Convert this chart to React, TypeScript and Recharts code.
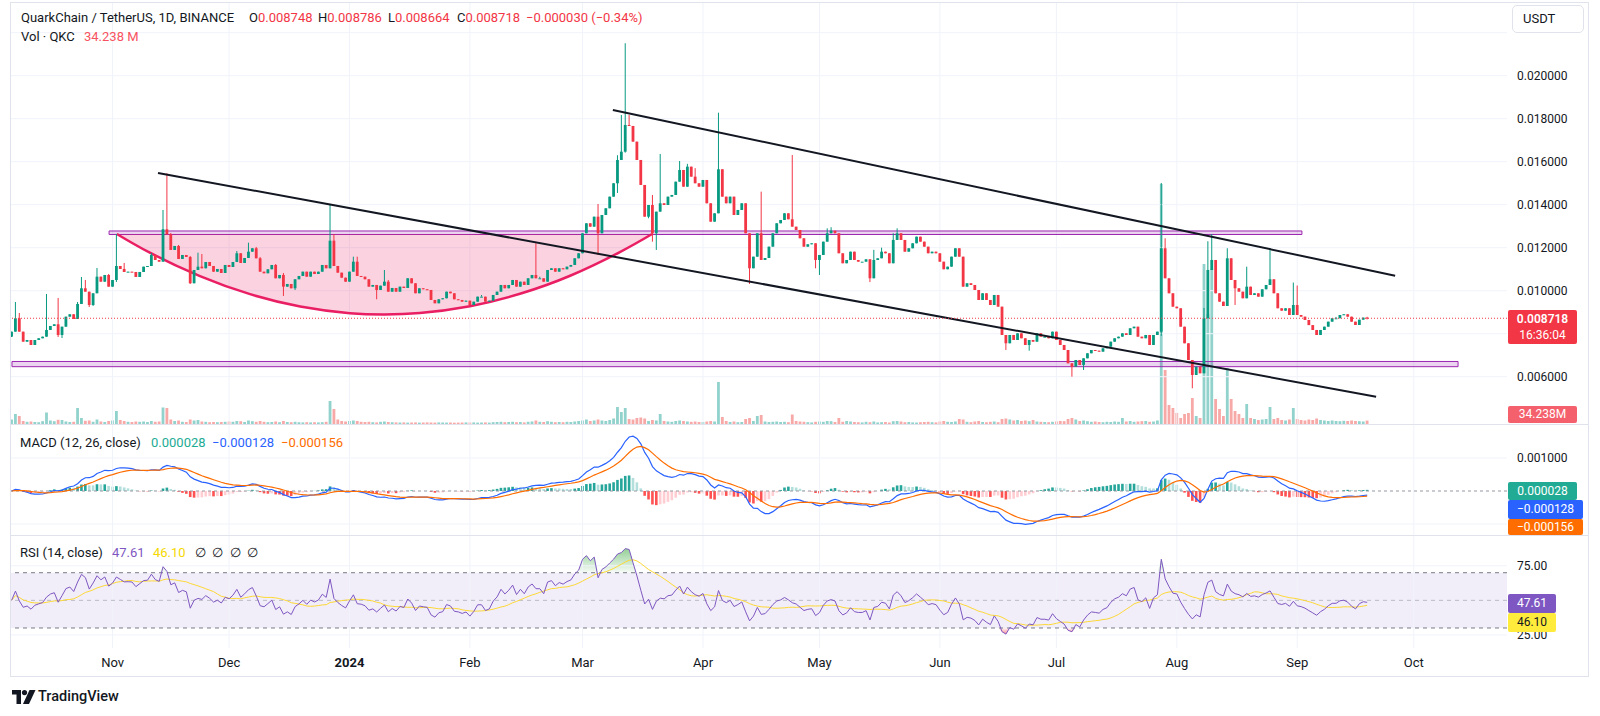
import React from "react";
import {
  Area,
  Bar,
  ComposedChart,
  Line,
  ReferenceArea,
  ReferenceLine,
  XAxis,
  YAxis,
} from "recharts";

const FONT = "Roboto, 'Noto Sans', sans-serif";
const TEXT = "#131722";
const GRID = "#f0f3fa";
const FRAME = "#e0e3eb";
const UP = "#089981";
const DOWN = "#f23645";

// ---- daily closes, millionths of USDT (Oct 6 2023 .. Sep 19 2024) ----
const closeOct = [8094, 8717, 8094, 7628, 7707, 7475, 7707, 7787, 7861, 8173, 8359, 8438, 7940, 8326, 8791, 8903, 8684, 9382, 10112, 9954, 9335, 9880, 10652, 10419, 10731, 10187];
const closeNov = [10498, 11149, 11010, 10870, 10884, 10870, 10638, 10870, 11117, 11149, 11661, 11428, 11349, 12856, 12624, 11894, 12080, 11475, 11661, 11568, 10345, 10963, 11117, 11042, 11335, 11149, 10884, 11010, 10824, 11196];
const closeDec = [11103, 11335, 11740, 11289, 11521, 11814, 11973, 11507, 10884, 10810, 10996, 11196, 10577, 10731, 10187, 10312, 10112, 10531, 10684, 10884, 10652, 10884, 10777, 10884, 11196, 11042, 12326, 11149, 10838, 10605, 10419];
const closeJan = [10884, 11349, 10684, 10652, 10531, 10187, 10266, 10033, 10233, 10419, 9954, 10126, 9954, 10187, 10126, 10577, 10345, 9880, 10112, 10066, 10033, 9568, 9414, 9600, 9647, 9954, 9880, 9600, 9568, 9489, 9536];
const closeFeb = [9335, 9489, 9722, 9722, 9489, 9536, 9801, 9954, 10266, 10112, 10266, 10498, 10187, 10419, 10266, 10577, 10731, 10577, 10577, 10419, 10963, 11042, 10884, 11042, 10996, 11117, 11196, 11507, 11740];
const closeMar = [12670, 13135, 12977, 13442, 12670, 13521, 13833, 14373, 14996, 16079, 16465, 17707, 17661, 16931, 16079, 14917, 13442, 13986, 12670, 13675, 14065, 13986, 14373, 14452, 15070, 15614, 14837, 15768, 15303, 14996, 14837];
const closeApr = [15149, 14065, 13210, 13600, 15647, 14373, 14065, 14373, 13521, 13754, 14065, 12670, 11042, 11582, 12670, 11428, 11521, 12047, 12670, 13135, 13289, 13600, 13321, 12977, 12824, 12438, 12047, 12159, 12205, 11428];
const closeMay = [11661, 12280, 12670, 12791, 12670, 11740, 11275, 11428, 11814, 11428, 11349, 11349, 11461, 10577, 11428, 11507, 11814, 11740, 11275, 12359, 12670, 12359, 11814, 11973, 12205, 12512, 12280, 12047, 11740, 11814, 11740];
const closeJun = [11349, 10996, 11117, 11582, 11973, 11582, 10187, 10345, 10266, 10033, 9568, 9880, 9568, 9335, 9801, 9257, 7940, 7554, 7940, 7707, 8019, 7787, 7475, 7707, 7628, 8019, 7861, 7861, 7787, 8094];
const closeJul = [7707, 7475, 7242, 6623, 6466, 6777, 6545, 6856, 7089, 7242, 7210, 7164, 7322, 7396, 7628, 7787, 7861, 8019, 7940, 8252, 8326, 7861, 7787, 7940, 7475, 7940, 8094, 11973, 10577, 9880, 9257];
const closeAug = [9182, 8326, 7554, 6777, 6080, 6466, 6159, 8717, 10963, 11428, 9880, 9489, 9289, 11507, 10498, 10112, 9954, 9647, 10187, 9801, 9880, 9722, 10066, 10266, 10531, 9880, 9182, 9071, 9182, 8870, 9335];
const closeSep = [8870, 8791, 8638, 8400, 8173, 7940, 8173, 8326, 8559, 8717, 8717, 8870, 8903, 8791, 8559, 8405, 8652, 8748, 8718];
const firstOpen = 7861;

// wicks that stand out from the body (day index -> price, millionths)
const wickHigh: Record<number, number> = {
  1: 9475, 2: 8963, 9: 9847, 12: 9661, 17: 9475, 18: 10638, 19: 10498, 22: 11056, 25: 10777,
  27: 12638, 29: 11289, 36: 11754, 39: 13754, 40: 15461, 41: 12684, 43: 12126, 46: 11614,
  48: 11768, 49: 11707, 58: 11847, 61: 12233, 63: 12033, 64: 11568, 68: 11242, 70: 10824,
  82: 13986, 83: 12624, 88: 11582, 89: 11582, 96: 10963, 97: 10498, 121: 9800, 135: 12205,
  136: 10650, 151: 14033, 156: 16300, 157: 18172, 158: 21507, 159: 18172, 165: 14452,
  167: 16359, 172: 16033, 174: 15900, 176: 15700, 182: 18279, 193: 14606, 201: 16312,
  210: 12900, 211: 12950, 222: 11900, 224: 12000, 227: 12670, 228: 12900, 266: 7940,
  296: 15010, 297: 12438, 307: 9200, 308: 12300, 309: 12638, 313: 11973, 318: 11117,
  324: 11973, 330: 10380, 331: 10240, 341: 8780, 349: 8786,
};
const wickLow: Record<number, number> = {
  0: 7847, 12: 7847, 13: 7800, 20: 9242, 21: 9289, 27: 10405, 46: 10312, 70: 9754, 73: 10033,
  94: 9600, 151: 11661, 156: 14545, 158: 16420, 164: 13368, 165: 12280, 166: 11894,
  190: 10312, 207: 11040, 208: 10731, 221: 10400, 256: 7242, 262: 7210, 273: 6001,
  276: 6312, 296: 7900, 304: 5461, 315: 9335, 349: 8664,
};

// ---- daily volume, millions of QKC ----
const volOct = [45, 100, 80, 30, 22, 25, 20, 18, 28, 115, 35, 28, 42, 40, 25, 20, 22, 160, 60, 32, 35, 22, 45, 25, 20, 30];
const volNov = [35, 130, 40, 30, 22, 20, 25, 22, 25, 20, 30, 22, 25, 165, 160, 45, 30, 35, 22, 20, 45, 35, 40, 25, 22, 18, 20, 18, 20, 22];
const volDec = [25, 22, 30, 28, 20, 35, 28, 22, 30, 22, 18, 20, 25, 18, 30, 20, 18, 22, 18, 16, 18, 16, 18, 16, 18, 22, 230, 150, 45, 30, 25];
const volJan = [30, 35, 30, 22, 20, 22, 18, 16, 22, 25, 20, 18, 16, 15, 16, 14, 15, 16, 14, 15, 16, 15, 14, 16, 15, 14, 15, 13, 14, 15, 16];
const volFeb = [15, 16, 14, 15, 16, 14, 18, 20, 22, 18, 20, 22, 18, 20, 16, 22, 25, 35, 22, 20, 28, 22, 18, 20, 18, 22, 20, 25, 30];
const volMar = [35, 45, 30, 35, 45, 35, 30, 40, 55, 170, 120, 160, 50, 45, 60, 65, 55, 30, 40, 35, 100, 30, 25, 22, 30, 35, 30, 25, 22, 25, 20];
const volApr = [20, 25, 30, 25, 420, 70, 30, 20, 25, 18, 20, 50, 60, 30, 80, 90, 25, 20, 22, 25, 20, 22, 18, 95, 30, 25, 22, 18, 16, 22];
const volMay = [25, 22, 30, 28, 20, 60, 22, 30, 25, 20, 18, 16, 22, 18, 25, 16, 18, 20, 15, 28, 30, 25, 18, 20, 16, 15, 18, 20, 22, 18, 16];
const volJun = [25, 30, 22, 20, 25, 50, 45, 22, 18, 25, 30, 20, 18, 22, 25, 18, 50, 55, 45, 35, 40, 30, 35, 28, 40, 25, 22, 20, 18, 22];
const volJul = [25, 30, 28, 50, 60, 45, 30, 35, 28, 22, 25, 20, 18, 22, 20, 25, 22, 60, 25, 30, 22, 25, 28, 30, 22, 25, 35, 2400, 540, 190, 160];
const volAug = [110, 60, 100, 110, 260, 80, 60, 1600, 1100, 1550, 250, 150, 80, 560, 250, 130, 100, 60, 200, 60, 50, 40, 45, 50, 170, 50, 60, 40, 35, 45, 160];
const volSep = [50, 40, 35, 45, 40, 55, 40, 35, 30, 35, 30, 28, 32, 30, 35, 30, 28, 25, 34];

// ---- axes ----
const monthStarts = [26, 56, 87, 118, 147, 178, 208, 239, 269, 300, 331, 361];
const monthLabels = ["Nov", "Dec", "2024", "Feb", "Mar", "Apr", "May", "Jun", "Jul", "Aug", "Sep", "Oct"];
const priceTicks = [0.006, 0.01, 0.012, 0.014, 0.016, 0.018, 0.02];
const priceGrid = [0.006, 0.008, 0.01, 0.012, 0.014, 0.016, 0.018, 0.02, 0.022];
const lastPrice = 0.008718;

// ---- drawings (day index, price) ----
const trendLines = [
  { x1: 37.7, y1: 0.015475, x2: 351.3, y2: 0.005071 },
  { x1: 154.8, y1: 0.018405, x2: 356.2, y2: 0.010698 },
];
const zones = [
  { x1: 25.1, x2: 332.2, y1: 0.012614, y2: 0.012777 },
  { x1: 0.1, x2: 372.4, y1: 0.006466, y2: 0.006708 },
];
const cupIdx = [27.1, 35.6, 48.5, 61.4, 74.3, 87.1, 96.0, 105.1, 118.0, 130.9, 143.8, 156.6, 164.9];
const cupPrice = [12638, 11768, 10675, 9838, 9266, 8954, 8893, 8959, 9275, 9856, 10694, 11796, 12638];
const cupRim = 12638;

// ---- scales ----
const X_MIN = -0.15;
const X_MAX = 385.0;
const P_MIN = 0.0038;
const P_MAX = 0.02338;
const VOL_TOP = 4210;
const MACD_MIN = -0.0013333;
const MACD_MAX = 0.002;
const RSI_MIN = 15.52;
const RSI_MAX = 96.56;

const closes = [
  ...closeOct, ...closeNov, ...closeDec, ...closeJan, ...closeFeb, ...closeMar,
  ...closeApr, ...closeMay, ...closeJun, ...closeJul, ...closeAug, ...closeSep,
].map((v) => v / 1e6);
const vols = [
  ...volOct, ...volNov, ...volDec, ...volJan, ...volFeb, ...volMar,
  ...volApr, ...volMay, ...volJun, ...volJul, ...volAug, ...volSep,
];

function ema(src: number[], n: number) {
  const k = 2 / (n + 1);
  const out: number[] = [];
  src.forEach((v, i) => out.push(i === 0 ? v : out[i - 1] + k * (v - out[i - 1])));
  return out;
}

// MACD 12/26/9 and RSI 14 from the closes
const ema12 = ema(closes, 12);
const ema26 = ema(closes, 26);
const macd = closes.map((_, i) => ema12[i] - ema26[i]);
const signal = ema(macd, 9);
const hist = macd.map((m, i) => m - signal[i]);

const change = closes.map((c, i) => (i === 0 ? 0 : c - closes[i - 1]));
const seed = change.slice(1, 15).reduce((s, d) => s + Math.abs(d), 0) / 28;
let avgGain = seed;
let avgLoss = seed;
const rsi = closes.map((_, i) => {
  if (i > 0) {
    avgGain = (avgGain * 13 + Math.max(change[i], 0)) / 14;
    avgLoss = (avgLoss * 13 + Math.max(-change[i], 0)) / 14;
  }
  return 100 - 100 / (1 + avgGain / avgLoss);
});
const rsiMa = rsi.map((_, i) => {
  const w = rsi.slice(Math.max(0, i - 13), i + 1);
  return w.reduce((a, b) => a + b, 0) / w.length;
});

const rows = closes.map((c, i) => {
  const o = i === 0 ? firstOpen / 1e6 : closes[i - 1];
  const h = Math.max(o, c, (wickHigh[i] ?? 0) / 1e6);
  const l = Math.min(o, c, wickLow[i] != null ? wickLow[i] / 1e6 : Infinity);
  const prevHist = i === 0 ? 0 : hist[i - 1];
  const hc =
    hist[i] >= 0
      ? hist[i] > prevHist ? "#26a69a" : "#b2dfdb"
      : hist[i] > prevHist ? "#ffcdd2" : "#ff5252";
  return { i, o, c, h, l, v: vols[i] ?? 0, macd: macd[i], signal: signal[i], hist: hist[i], hc, rsi: rsi[i], rsiMa: rsiMa[i] };
});

const cupRows = cupIdx.map((i, k) => ({ i, p: cupPrice[k] / 1e6, rim: cupRim / 1e6 }));

// ---- shapes ----
const candleShape = (p: any) => {
  const d = p.payload;
  const top = Math.min(p.y, p.y + p.height);
  const span = Math.abs(p.height);
  const cx = p.x + p.width / 2;
  const yOf = (v: number) => (d.h === d.l ? top : top + ((d.h - v) / (d.h - d.l)) * span);
  const color = d.c >= d.o ? UP : DOWN;
  const bt = yOf(Math.max(d.o, d.c));
  const bb = yOf(Math.min(d.o, d.c));
  return (
    <g>
      <line x1={cx} x2={cx} y1={top} y2={top + span} stroke={color} strokeWidth={1} />
      <rect x={cx - 1.4} y={bt} width={2.8} height={Math.max(1, bb - bt)} fill={color} />
    </g>
  );
};

const volShape = (p: any) => {
  const d = p.payload;
  const cx = p.x + p.width / 2;
  const top = Math.min(p.y, p.y + p.height);
  return (
    <rect
      x={cx - 1.4}
      y={top}
      width={2.8}
      height={Math.abs(p.height)}
      fill={d.c >= d.o ? "rgba(38,166,154,0.5)" : "rgba(239,83,80,0.5)"}
    />
  );
};

const histShape = (p: any) => {
  const cx = p.x + p.width / 2;
  const top = Math.min(p.y, p.y + p.height);
  return <rect x={cx - 1.3} y={top} width={2.6} height={Math.abs(p.height)} fill={p.payload.hc} />;
};

const axisText = (label: (v: number) => string) => (p: any) => (
  <text x={1517} y={p.y} dominantBaseline="central" fontSize={12} fill={TEXT} fontFamily={FONT}>
    {label(p.payload.value)}
  </text>
);

const monthTick = (p: any) => {
  const k = monthStarts.indexOf(p.payload.value);
  const label = monthLabels[k] ?? "";
  return (
    <text x={p.x} y={126} textAnchor="middle" dominantBaseline="central" fontSize={13} fill={TEXT} fontFamily={FONT} fontWeight={label === "2024" ? 700 : 400}>
      {label}
    </text>
  );
};

function Pane({ top, height, children }: { top: number; height: number; children: React.ReactNode }) {
  return <div style={{ position: "absolute", left: 0, top, width: 1600, height }}>{children}</div>;
}

function Txt({ left, top, color = TEXT, children, size = 13 }: any) {
  return (
    <div style={{ position: "absolute", left, top, color, fontSize: size, lineHeight: "16px", whiteSpace: "nowrap" }}>
      {children}
    </div>
  );
}

function Tag({ left, top, width, height, bg, color = "#fff", children }: any) {
  return (
    <div style={{ position: "absolute", left, top, width, height, background: bg, color, fontSize: 12, lineHeight: `${height}px`, textAlign: "center", borderRadius: 2, whiteSpace: "nowrap" }}>
      {children}
    </div>
  );
}

const vGrid = (axis: string) =>
  monthStarts.map((m) => <ReferenceLine key={`m${m}`} x={m} yAxisId={axis} stroke={GRID} strokeWidth={1} />);

export default function App() {
  const m93 = { top: 0, right: 93, bottom: 0, left: 11 };
  const m13 = { top: 0, right: 13, bottom: 0, left: 11 };
  return (
    <div style={{ position: "absolute", left: 0, top: 0, width: 1600, height: 716, background: "#fff", fontFamily: FONT, overflow: "hidden" }}>
      {/* price pane: grid + volume */}
      <Pane top={3} height={421}>
        <ComposedChart width={1600} height={421} data={rows} margin={m93}>
          <XAxis type="number" dataKey="i" domain={[X_MIN, X_MAX]} hide allowDataOverflow />
          <YAxis yAxisId="price" domain={[P_MIN, P_MAX]} hide allowDataOverflow />
          <YAxis yAxisId="vol" domain={[0, VOL_TOP]} hide allowDataOverflow />
          {vGrid("price")}
          {priceGrid.map((v) => (
            <ReferenceLine key={`g${v}`} y={v} yAxisId="price" stroke={GRID} strokeWidth={1} />
          ))}
          <Bar yAxisId="vol" dataKey="v" shape={volShape} isAnimationActive={false} />
        </ComposedChart>
      </Pane>

      {/* price pane: zones + cup */}
      <Pane top={3} height={421}>
        <ComposedChart width={1600} height={421} data={cupRows} margin={m93}>
          <XAxis type="number" dataKey="i" domain={[X_MIN, X_MAX]} hide allowDataOverflow />
          <YAxis yAxisId="price" domain={[P_MIN, P_MAX]} hide allowDataOverflow />
          {zones.map((z, k) => (
            <ReferenceArea key={`z${k}`} yAxisId="price" x1={z.x1} x2={z.x2} y1={z.y1} y2={z.y2} fill="rgba(156,39,176,0.2)" fillOpacity={1} stroke="#9c27b0" strokeWidth={1} />
          ))}
          <Area yAxisId="price" type="natural" dataKey={(d: any) => [d.p, d.rim]} stroke="none" fill="rgba(233,30,99,0.2)" fillOpacity={1} isAnimationActive={false} />
          <Line yAxisId="price" type="natural" dataKey="p" stroke="#e91e63" strokeWidth={2.5} dot={false} isAnimationActive={false} />
        </ComposedChart>
      </Pane>

      {/* price pane: candles, trend lines, axis */}
      <Pane top={3} height={421}>
        <ComposedChart width={1600} height={421} data={rows} margin={m13}>
          <XAxis type="number" dataKey="i" domain={[X_MIN, X_MAX]} hide allowDataOverflow />
          <YAxis
            yAxisId="price"
            orientation="right"
            width={80}
            domain={[P_MIN, P_MAX]}
            ticks={priceTicks}
            interval={0}
            allowDataOverflow
            axisLine={false}
            tickLine={false}
            tick={axisText((v) => v.toFixed(6))}
          />
          <Bar yAxisId="price" dataKey={(d: any) => [d.l, d.h]} shape={candleShape} isAnimationActive={false} />
          {trendLines.map((t, k) => (
            <ReferenceLine
              key={`t${k}`}
              yAxisId="price"
              segment={[{ x: t.x1, y: t.y1 }, { x: t.x2, y: t.y2 }]}
              stroke="#131722"
              strokeWidth={2}
            />
          ))}
          <ReferenceLine yAxisId="price" y={lastPrice} stroke={DOWN} strokeDasharray="1 2" strokeWidth={1} />
        </ComposedChart>
      </Pane>

      {/* MACD pane */}
      <Pane top={425} height={110}>
        <ComposedChart width={1600} height={110} data={rows} margin={m13}>
          <XAxis type="number" dataKey="i" domain={[X_MIN, X_MAX]} hide allowDataOverflow />
          <YAxis
            yAxisId="m"
            orientation="right"
            width={80}
            domain={[MACD_MIN, MACD_MAX]}
            ticks={[0.001]}
            interval={0}
            allowDataOverflow
            axisLine={false}
            tickLine={false}
            tick={axisText((v) => v.toFixed(6))}
          />
          {vGrid("m")}
          <ReferenceLine yAxisId="m" y={0.001} stroke={GRID} />
          <ReferenceLine yAxisId="m" y={-0.001} stroke={GRID} />
          <ReferenceLine yAxisId="m" y={0} stroke="#9598a1" strokeDasharray="3 3" />
          <Bar yAxisId="m" dataKey="hist" shape={histShape} isAnimationActive={false} />
          <Line yAxisId="m" type="linear" dataKey="macd" stroke="#2962ff" strokeWidth={1.2} dot={false} isAnimationActive={false} />
          <Line yAxisId="m" type="linear" dataKey="signal" stroke="#ff6d00" strokeWidth={1.2} dot={false} isAnimationActive={false} />
        </ComposedChart>
      </Pane>

      {/* RSI pane + time axis */}
      <Pane top={536} height={140}>
        <ComposedChart width={1600} height={140} data={rows} margin={m13}>
          <defs>
            <linearGradient id="ob" x1="0" y1="0" x2="0" y2="1">
              <stop offset="0%" stopColor="#4caf50" stopOpacity={0.6} />
              <stop offset="100%" stopColor="#4caf50" stopOpacity={0.05} />
            </linearGradient>
            <linearGradient id="os" x1="0" y1="0" x2="0" y2="1">
              <stop offset="0%" stopColor="#f23645" stopOpacity={0.05} />
              <stop offset="100%" stopColor="#f23645" stopOpacity={0.6} />
            </linearGradient>
          </defs>
          <XAxis
            type="number"
            dataKey="i"
            domain={[X_MIN, X_MAX]}
            allowDataOverflow
            height={28}
            ticks={monthStarts}
            interval={0}
            axisLine={false}
            tickLine={false}
            tick={monthTick}
          />
          <YAxis
            yAxisId="r"
            orientation="right"
            width={80}
            domain={[RSI_MIN, RSI_MAX]}
            ticks={[25, 75]}
            interval={0}
            allowDataOverflow
            axisLine={false}
            tickLine={false}
            tick={axisText((v) => v.toFixed(2))}
          />
          {vGrid("r")}
          <ReferenceLine yAxisId="r" y={75} stroke={GRID} />
          <ReferenceLine yAxisId="r" y={25} stroke={GRID} />
          <ReferenceArea yAxisId="r" y1={30} y2={70} fill="rgba(126,87,194,0.1)" fillOpacity={1} stroke="none" />
          <ReferenceLine yAxisId="r" y={70} stroke="#787b86" strokeDasharray="4 4" />
          <ReferenceLine yAxisId="r" y={50} stroke="#9598a1" strokeDasharray="4 4" strokeOpacity={0.6} />
          <ReferenceLine yAxisId="r" y={30} stroke="#787b86" strokeDasharray="4 4" />
          <Area yAxisId="r" type="linear" dataKey={(d: any) => [70, Math.max(70, d.rsi)]} stroke="none" fill="url(#ob)" fillOpacity={1} isAnimationActive={false} />
          <Area yAxisId="r" type="linear" dataKey={(d: any) => [Math.min(30, d.rsi), 30]} stroke="none" fill="url(#os)" fillOpacity={1} isAnimationActive={false} />
          <Line yAxisId="r" type="linear" dataKey="rsiMa" stroke="#fdd835" strokeWidth={1} dot={false} isAnimationActive={false} />
          <Line yAxisId="r" type="linear" dataKey="rsi" stroke="#7e57c2" strokeWidth={1} dot={false} isAnimationActive={false} />
        </ComposedChart>
      </Pane>

      {/* frame and pane separators */}
      <div style={{ position: "absolute", left: 10, top: 2, width: 1579, height: 675, border: `1px solid ${FRAME}`, boxSizing: "border-box", pointerEvents: "none" }} />
      <div style={{ position: "absolute", left: 10, top: 424, width: 1579, height: 1, background: FRAME }} />
      <div style={{ position: "absolute", left: 10, top: 535, width: 1579, height: 1, background: FRAME }} />

      {/* legends */}
      <Txt left={21} top={10}>QuarkChain / TetherUS, 1D, BINANCE</Txt>
      <Txt left={249} top={10}>O<span style={{ color: DOWN }}>0.008748</span></Txt>
      <Txt left={318} top={10}>H<span style={{ color: DOWN }}>0.008786</span></Txt>
      <Txt left={388} top={10}>L<span style={{ color: DOWN }}>0.008664</span></Txt>
      <Txt left={457} top={10}>C<span style={{ color: DOWN }}>0.008718</span></Txt>
      <Txt left={526} top={10} color={DOWN}>−0.000030 (−0.34%)</Txt>
      <Txt left={21} top={29}>Vol · QKC</Txt>
      <Txt left={84} top={29} color="#f7525f">34.238 M</Txt>

      <Txt left={20} top={435}>MACD (12, 26, close)</Txt>
      <Txt left={151} top={435} color="#22ab94">0.000028</Txt>
      <Txt left={212} top={435} color="#2962ff">−0.000128</Txt>
      <Txt left={281} top={435} color="#ff6d00">−0.000156</Txt>

      <Txt left={20} top={545}>RSI (14, close)</Txt>
      <Txt left={112} top={545} color="#7e57c2">47.61</Txt>
      <Txt left={153} top={545} color="#f5d800">46.10</Txt>
      <Txt left={195} top={545}>∅</Txt>
      <Txt left={212} top={545}>∅</Txt>
      <Txt left={230} top={545}>∅</Txt>
      <Txt left={247} top={545}>∅</Txt>

      {/* right scale tags */}
      <div style={{ position: "absolute", left: 1512, top: 5, width: 72, height: 28, border: `1px solid ${FRAME}`, borderRadius: 5, boxSizing: "border-box", fontSize: 13, lineHeight: "26px", paddingLeft: 10, color: TEXT }}>
        USDT
      </div>
      <div style={{ position: "absolute", left: 1508, top: 310, width: 69, height: 34, background: DOWN, color: "#fff", fontSize: 12, lineHeight: "16px", textAlign: "center", paddingTop: 1, boxSizing: "border-box", borderRadius: 2 }}>
        <div style={{ fontWeight: 600 }}>0.008718</div>
        <div>16:36:04</div>
      </div>
      <Tag left={1508} top={406} width={69} height={17} bg="#f4606b">34.238M</Tag>
      <Tag left={1508} top={482} width={69} height={18} bg="#22ab94">0.000028</Tag>
      <Tag left={1508} top={500} width={75} height={19} bg="#2962ff">−0.000128</Tag>
      <Tag left={1508} top={519} width={75} height={16} bg="#ff6d00">−0.000156</Tag>
      <Tag left={1508} top={594} width={48} height={19} bg="#7e57c2">47.61</Tag>
      <Tag left={1508} top={613} width={48} height={19} bg="#ffeb3b" color={TEXT}>46.10</Tag>

      {/* TradingView mark */}
      <svg style={{ position: "absolute", left: 12, top: 690 }} width="24" height="14">
        <path d="M0 0h9v14h-4.5V4.5H0z" fill={TEXT} />
        <circle cx="12.5" cy="2.6" r="2.6" fill={TEXT} />
        <path d="M17.5 0h6l-6.5 14h-6z" fill={TEXT} />
      </svg>
      <div style={{ position: "absolute", left: 38, top: 688, fontSize: 14.5, fontWeight: 500, color: TEXT, lineHeight: "18px" }}>
        TradingView
      </div>
    </div>
  );
}
